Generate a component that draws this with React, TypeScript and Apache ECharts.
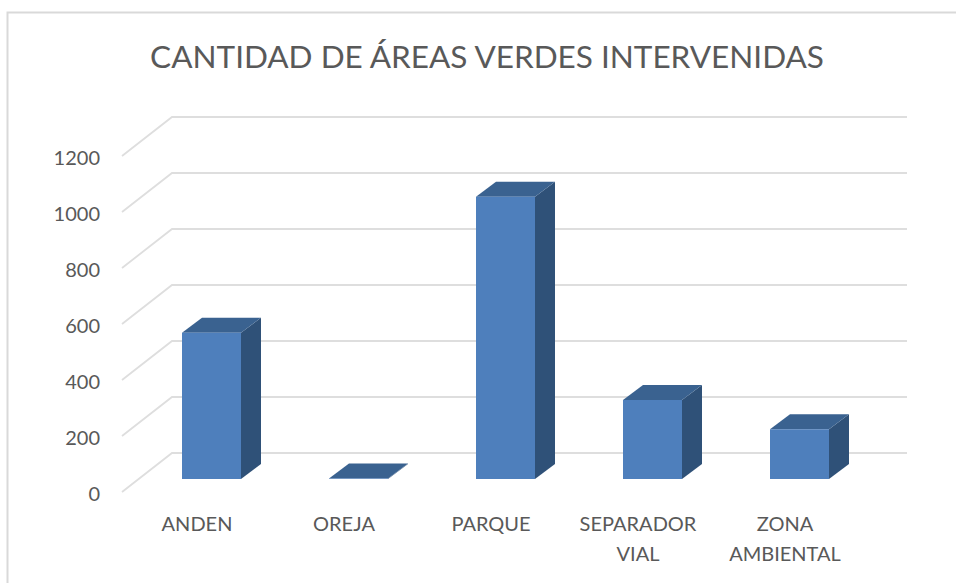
import React, { useEffect, useRef } from "react";
import * as echarts from "echarts";

const titleText = "CANTIDAD DE ÁREAS VERDES INTERVENIDAS";
const categories = ["ANDEN", "OREJA", "PARQUE", "SEPARADOR\nVIAL", "ZONA\nAMBIENTAL"];
const values = [522, 2, 1008, 282, 178];
const yTicks = [0, 200, 400, 600, 800, 1000, 1200];

const TEXT = "#595959";
const GRID = "#DEDEDE";
const FRONT = "#4E7FBC";
const SIDE = "#2F5178";
const TOP = "#3A6290";
const FONT = "Lato";

export default function App() {
  const ref = useRef<HTMLDivElement>(null);
  useEffect(() => {
    const chart = echarts.init(ref.current!, undefined, { renderer: "svg" });
    chart.setOption({
      animation: false,
      backgroundColor: "#ffffff",
      title: {
        text: titleText,
        left: 482,
        top: 35,
        textAlign: "center",
        textStyle: { color: TEXT, fontFamily: FONT, fontSize: 31.5, fontWeight: "normal" },
      },
      grid: { left: 138, top: 143, width: 735, height: 336 },
      xAxis: {
        type: "category",
        data: categories,
        axisLine: { show: false },
        axisTick: { show: false },
        axisLabel: {
          interval: 0,
          color: TEXT,
          fontFamily: FONT,
          fontSize: 20,
          lineHeight: 30,
          margin: 29,
          padding: [0, 29, 0, 0],
        },
      },
      yAxis: {
        type: "value",
        min: 0,
        max: 1200,
        interval: 200,
        axisLine: { show: false },
        axisTick: { show: false },
        splitLine: { show: false },
        axisLabel: {
          color: TEXT,
          fontFamily: FONT,
          fontSize: 20,
          margin: 38,
          verticalAlign: "top",
          lineHeight: 27,
          formatter: (v: number) => String(v),
        },
      },
      graphic: [
        {
          type: "polyline",
          silent: true,
          shape: { points: [[7.5, 583], [7.5, 12.5], [956, 12.5]] },
          style: { stroke: "#D9D9D9", lineWidth: 2, fill: "none" },
        },
      ],
      series: [
        {
          type: "custom",
          name: "grid",
          silent: true,
          z: 1,
          data: yTicks.map((t) => [0, t]),
          encode: { x: 0, y: 1 },
          renderItem: (params: any, api: any) => {
            const y = api.coord([0, api.value(1)])[1];
            const cs = params.coordSys;
            return {
              type: "polyline",
              shape: {
                points: [
                  [cs.x - 16, y + 13],
                  [cs.x + 34, y - 26],
                  [cs.x + cs.width + 34, y - 26],
                ],
              },
              style: { stroke: GRID, lineWidth: 1.8, fill: "none" },
            };
          },
        },
        {
          type: "custom",
          name: "Cantidad",
          silent: true,
          z: 2,
          data: values.map((v, i) => [i, v]),
          encode: { x: 0, y: 1 },
          renderItem: (_params: any, api: any) => {
            const [cx, yTop] = api.coord([api.value(0), api.value(1)]);
            const yBase = api.coord([api.value(0), 0])[1];
            const w = 59;
            const dx = 20;
            const dy = 15;
            const l = cx - w / 2;
            const r = cx + w / 2;
            return {
              type: "group",
              children: [
                {
                  type: "polygon",
                  shape: { points: [[r, yBase], [r, yTop], [r + dx, yTop - dy], [r + dx, yBase - dy]] },
                  style: { fill: SIDE },
                },
                {
                  type: "polygon",
                  shape: { points: [[l, yTop], [l + dx, yTop - dy], [r + dx, yTop - dy], [r, yTop]] },
                  style: { fill: TOP },
                },
                {
                  type: "rect",
                  shape: { x: l, y: yTop, width: w, height: yBase - yTop },
                  style: { fill: FRONT },
                },
              ],
            };
          },
        },
      ],
    });
    return () => chart.dispose();
  }, []);
  return (
    <div
      ref={ref}
      style={{ position: "fixed", left: 0, top: 0, width: 956, height: 583 }}
    />
  );
}
